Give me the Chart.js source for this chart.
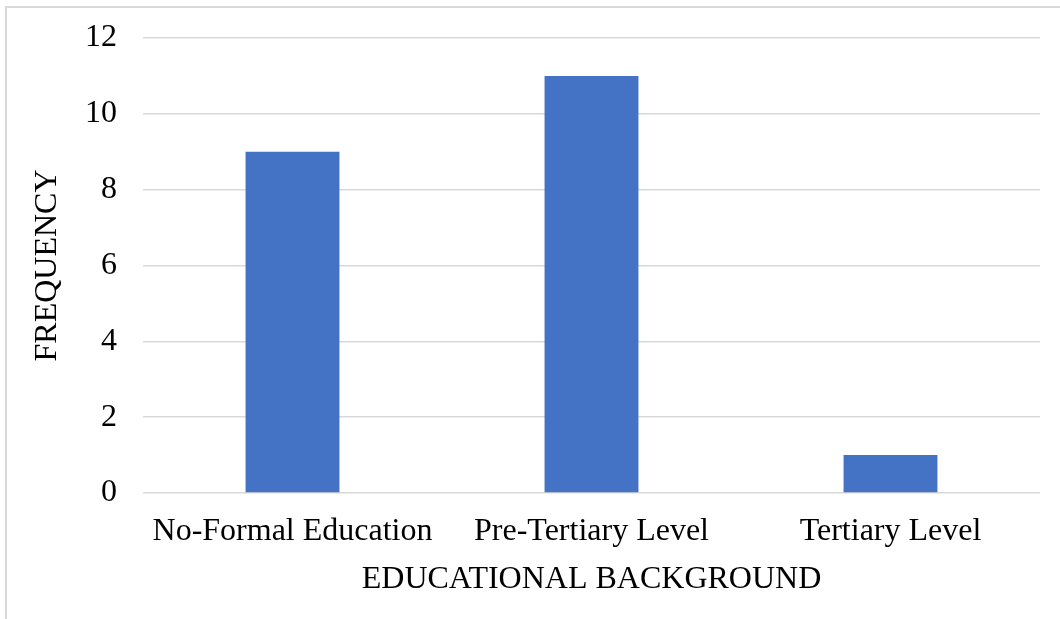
<!DOCTYPE html>
<html>
<head>
<meta charset="utf-8">
<script src="https://cdn.jsdelivr.net/npm/chart.js@4/dist/chart.umd.min.js"></script>
<style>
  html, body { margin: 0; padding: 0; background: #fff; }
  #wrap { position: relative; width: 1060px; height: 619px; overflow: hidden; }
  #frame { position: absolute; left: 5px; top: 6px; width: 1200px; height: 800px; border: 2px solid #d9d9d9; box-sizing: border-box; }
  #myChart { position: absolute; left: 0; top: 0; }
</style>
</head>
<body>
<div id="wrap">
  <div id="frame"></div>
  <canvas id="myChart" width="1060" height="619"></canvas>
</div>
<script>
// chart data
var categories = ['No-Formal Education', 'Pre-Tertiary Level', 'Tertiary Level'];
var frequency = [9, 11, 1];
var yTicks = [0, 2, 4, 6, 8, 10, 12];

document.addEventListener("DOMContentLoaded", () => {
    var ctx = document.getElementById('myChart').getContext('2d');
    var font = { family: "'Liberation Serif', 'Times New Roman', serif", size: 32 };

    var chart = new Chart(ctx, {
        type: 'bar',
        data: {
            labels: categories,
            datasets: [{
                label: 'Frequency',
                backgroundColor: '#4472C4',
                data: frequency,
                barPercentage: 1,
                categoryPercentage: 0.314
            }]
        },
        options: {
            responsive: false,
            animation: false,
            layout: { padding: { left: 26, right: 20, top: 38, bottom: 0 } },
            plugins: {
                legend: { display: false },
                tooltip: { enabled: false }
            },
            scales: {
                x: {
                    grid: { display: false },
                    border: { display: false },
                    ticks: { color: '#000', font: font, padding: 11, maxRotation: 0 },
                    title: { display: true, text: 'EDUCATIONAL BACKGROUND', color: '#000', font: font, padding: { top: 0, bottom: 20 } },
                    afterFit: function(scale) {
                        scale.height = 126;
                        scale.paddingLeft = 0;
                        scale.paddingRight = 0;
                    }
                },
                y: {
                    min: 0,
                    max: 12,
                    afterBuildTicks: function(scale) {
                        scale.ticks = yTicks.map(function(v) { return { value: v }; });
                    },
                    grid: { color: '#d9d9d9', lineWidth: 1.5, drawTicks: false },
                    border: { display: false },
                    ticks: { color: '#000', font: font, padding: 26 },
                    title: { display: true, text: 'FREQUENCY', color: '#000', font: font, padding: { top: 2, bottom: 0 } },
                    afterFit: function(scale) {
                        scale.width = 117;
                        scale.paddingTop = 0;
                        scale.paddingBottom = 0;
                    }
                }
            }
        }
    });
});
</script>
</body>
</html>
